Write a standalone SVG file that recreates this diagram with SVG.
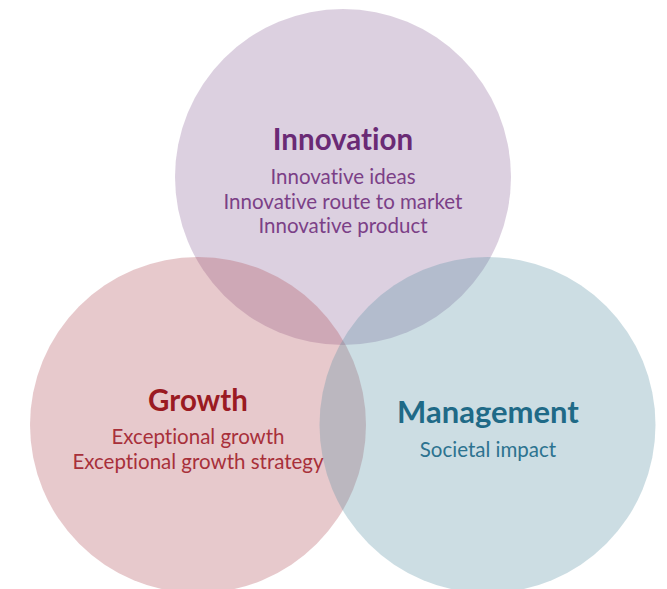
<svg xmlns="http://www.w3.org/2000/svg" width="667" height="589" viewBox="0 0 667 589">
<style>
.c{fill-opacity:0.3;stroke:none}
text{font-family:Lato,"Noto Sans",sans-serif;text-anchor:middle;font-variant-ligatures:none;font-feature-settings:"liga" 0}
.t{font-weight:bold;font-size:29.5px}
.s{font-size:20.5px}
.pi{fill:#6a2a75}
.ps{fill:#7b3f87}
.gi{fill:#9a1a22}
.gs{fill:#a8303a}
.mi{fill:#1f6a87}
.ms{fill:#2c7390}
</style>
<rect width="667" height="589" fill="#ffffff"/>
<g id="innovation">
<circle class="c" cx="343" cy="177" r="168" fill="#8a6299"/>
</g>
<g id="growth">
<circle class="c" cx="198" cy="425" r="168" fill="#af4b55"/>
</g>
<g id="management">
<circle class="c" cx="487.5" cy="425" r="168" fill="#558ea2"/>
</g>
<g id="labels">
<text class="t pi" x="343" y="150">Innovation</text>
<text class="s ps" x="343" y="184">Innovative ideas</text>
<text class="s ps" x="343" y="209">Innovative route to market</text>
<text class="s ps" x="343" y="233">Innovative product</text>
<text class="t gi" x="198" y="411">Growth</text>
<text class="s gs" x="198" y="444">Exceptional growth</text>
<text class="s gs" x="198" y="469">Exceptional growth strategy</text>
<text class="t mi" x="488" y="423" style="font-size:31px">Management</text>
<text class="s ms" x="488" y="457">Societal impact</text>
</g>
</svg>
